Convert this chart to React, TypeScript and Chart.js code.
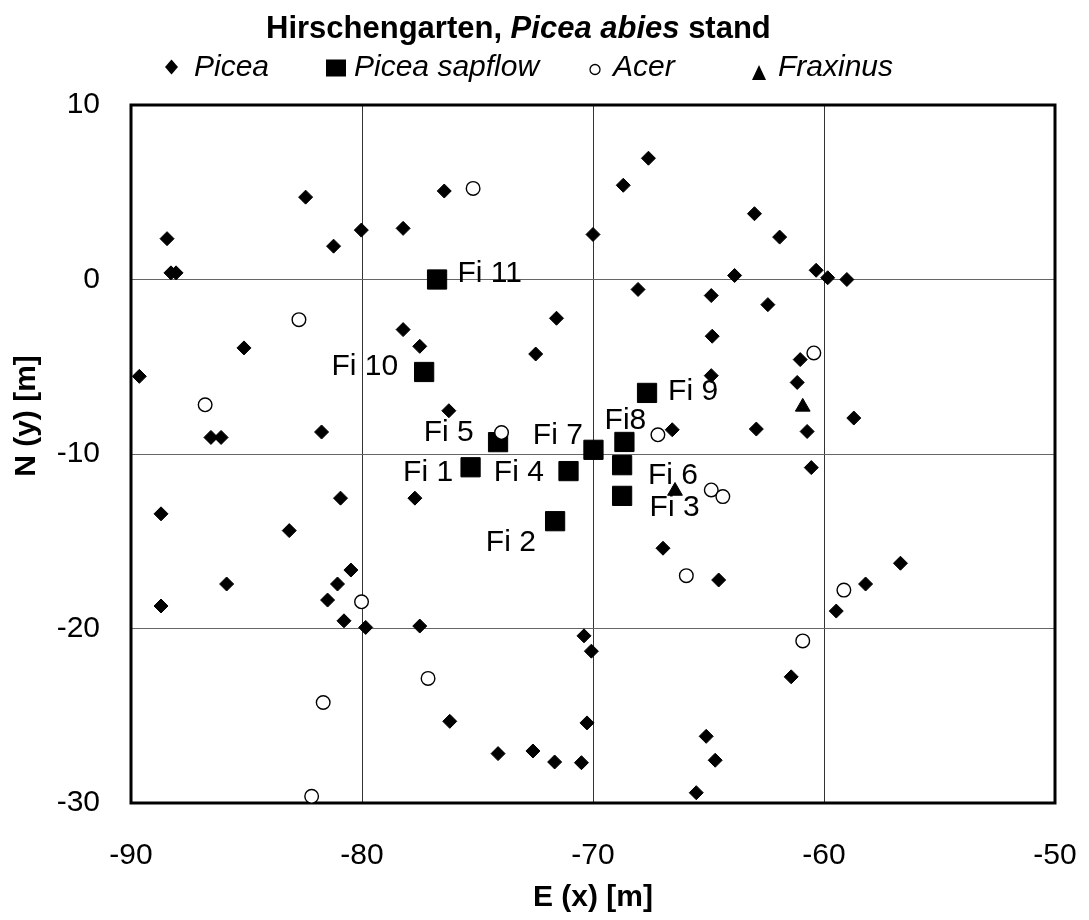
import React, { useEffect, useRef } from 'react';
import { Chart, registerables } from 'chart.js';

Chart.register(...registerables);

const FONT = "'Liberation Sans', Arial, Helvetica, sans-serif";

// Tree positions in the stand: metres east (x) and north (y)
const piceaX = [
  -82.44, -88.44, -88.27, -88.05, -81.23, -80.03, -78.22, -76.44, -85.11, -89.64,
  -86.54, -86.10, -81.75, -78.22, -77.50, -76.24, -71.58, -72.48, -67.60, -68.69,
  -70.00, -68.05, -64.88, -63.87, -64.84, -64.88, -66.57, -77.71, -80.93, -88.70,
  -83.15, -85.86, -80.48, -81.06, -81.49, -88.70, -80.78, -79.84, -77.50, -66.97,
  -64.56, -70.39, -70.07, -76.20, -70.26, -74.11, -72.60, -71.66, -70.50, -65.10,
  -64.71, -65.53, -63.01, -61.92, -60.34, -59.84, -59.01, -62.43, -61.03, -61.16,
  -62.93, -60.73, -58.71, -60.55, -56.69, -58.20, -59.47, -61.42,
];
const piceaY = [
  4.72, 2.34, 0.38, 0.38, 1.91, 2.83, 2.93, 5.07, -3.92, -5.55,
  -9.05, -9.05, -8.74, -2.87, -3.83, -7.52, -2.22, -4.27, 6.95, 5.40,
  2.58, -0.57, -0.92, 0.23, -3.25, -5.51, -8.61, -12.53, -12.53, -13.43,
  -14.39, -17.45, -16.65, -17.45, -18.37, -18.71, -19.56, -19.94, -19.86, -15.40,
  -17.22, -20.42, -21.30, -25.32, -25.41, -27.17, -27.02, -27.65, -27.69, -26.18,
  -27.55, -29.41, 3.77, 2.43, 0.53, 0.10, 0.0, -1.44, -4.59, -5.90,
  -8.57, -8.71, -7.94, -10.78, -16.26, -17.45, -19.00, -22.77,
];

const sapflowLabels = ['Fi 1', 'Fi 2', 'Fi 3', 'Fi 4', 'Fi 5', 'Fi 6', 'Fi 7', 'Fi8', 'Fi 9', 'Fi 10', 'Fi 11'];
const sapflowX = [-75.30, -71.64, -68.74, -71.06, -74.11, -68.74, -69.98, -68.64, -67.66, -77.31, -76.75];
const sapflowY = [-10.76, -13.85, -12.40, -10.98, -9.32, -10.64, -9.76, -9.31, -6.50, -5.30, 0.0];

const acerX = [
  -75.19, -82.73, -86.79, -73.96, -67.19, -64.88, -64.38, -65.96, -77.14, -80.02,
  -81.68, -82.18, -60.44, -59.14, -60.92,
];
const acerY = [
  5.22, -2.30, -7.18, -8.77, -8.90, -12.06, -12.44, -16.97, -22.86, -18.47,
  -24.24, -29.62, -4.21, -17.80, -20.71,
];

const fraxinusX = [-66.45, -60.92];
const fraxinusY = [-12.12, -7.30];

const xTickValues = [-90, -80, -70, -60, -50];
const yTickValues = [-30, -20, -10, 0, 10];

const seriesNames = ['Picea', 'Picea sapflow', 'Acer', 'Fraxinus'];
const titleParts = [
  { text: 'Hirschengarten, ', italic: false },
  { text: 'Picea abies', italic: true },
  { text: ' stand', italic: false },
];
const xAxisTitle = 'E (x) [m]';
const yAxisTitle = 'N (y) [m]';

const toPoints = (xs: number[], ys: number[]) => xs.map((x, i) => ({ x, y: ys[i] }));

// Where each sapflow tag sits relative to its marker (pixels)
const tagPlacement: Record<string, { dx: number; dy: number; align: CanvasTextAlign }> = {
  'Fi 1': { dx: -17.5, dy: 5, align: 'right' },
  'Fi 2': { dx: -19.3, dy: 21.2, align: 'right' },
  'Fi 3': { dx: 27.5, dy: 12, align: 'left' },
  'Fi 4': { dx: -24.7, dy: 1.7, align: 'right' },
  'Fi 5': { dx: -24.3, dy: -9.8, align: 'right' },
  'Fi 6': { dx: 25.8, dy: 10.5, align: 'left' },
  'Fi 7': { dx: -10.6, dy: -14.2, align: 'right' },
  'Fi8': { dx: 1, dy: -21.7, align: 'center' },
  'Fi 9': { dx: 21, dy: -1.6, align: 'left' },
  'Fi 10': { dx: -26, dy: -4.8, align: 'right' },
  'Fi 11': { dx: 20.4, dy: -6, align: 'left' },
};

// Heavy frame around the plotting area, under the markers
const framePlugin = {
  id: 'plotFrame',
  beforeDatasetsDraw(chart: any) {
    const { ctx, chartArea: a } = chart;
    ctx.save();
    ctx.strokeStyle = '#000';
    ctx.lineWidth = 3;
    ctx.strokeRect(a.left, a.top, a.right - a.left, a.bottom - a.top);
    ctx.restore();
  },
};

// Tags next to the sapflow trees
const tagPlugin = {
  id: 'sapflowTags',
  afterDatasetsDraw(chart: any) {
    const { ctx } = chart;
    const meta = chart.getDatasetMeta(1);
    ctx.save();
    ctx.fillStyle = '#000';
    ctx.font = `30px ${FONT}`;
    ctx.textBaseline = 'middle';
    meta.data.forEach((el: any, i: number) => {
      const label = sapflowLabels[i];
      const p = tagPlacement[label];
      ctx.textAlign = p.align;
      ctx.fillText(label, el.x + p.dx, el.y + p.dy);
    });
    ctx.restore();
  },
};

// Title with italic species name, legend row and the rotated y title
const headerPlugin = {
  id: 'header',
  afterDraw(chart: any) {
    const { ctx, chartArea: a } = chart;
    ctx.save();
    ctx.fillStyle = '#000';

    // title
    ctx.textBaseline = 'alphabetic';
    ctx.textAlign = 'left';
    let tx = 266;
    titleParts.forEach((part) => {
      ctx.font = `${part.italic ? 'italic ' : ''}bold 31px ${FONT}`;
      ctx.fillText(part.text, tx, 38);
      tx += ctx.measureText(part.text).width;
    });

    // legend
    const legendSlots = [
      { gx: 171.5, gy: 67, tx: 194 },
      { gx: 336, gy: 68, tx: 354 },
      { gx: 595, gy: 69.5, tx: 613 },
      { gx: 759, gy: 73, tx: 778 },
    ];
    ctx.font = `italic 30px ${FONT}`;
    seriesNames.forEach((name, i) => {
      const s = legendSlots[i];
      ctx.fillStyle = '#000';
      ctx.strokeStyle = '#000';
      ctx.beginPath();
      if (i === 0) {
        ctx.moveTo(s.gx, s.gy - 7.5);
        ctx.lineTo(s.gx + 6.5, s.gy);
        ctx.lineTo(s.gx, s.gy + 7.5);
        ctx.lineTo(s.gx - 6.5, s.gy);
        ctx.closePath();
        ctx.fill();
      } else if (i === 1) {
        ctx.rect(s.gx - 10, s.gy - 8.5, 20, 17);
        ctx.fill();
      } else if (i === 2) {
        ctx.arc(s.gx, s.gy, 5, 0, Math.PI * 2);
        ctx.fillStyle = '#fff';
        ctx.fill();
        ctx.lineWidth = 1.3;
        ctx.stroke();
      } else {
        ctx.moveTo(s.gx, s.gy - 8);
        ctx.lineTo(s.gx + 7, s.gy + 7);
        ctx.lineTo(s.gx - 7, s.gy + 7);
        ctx.closePath();
        ctx.fill();
      }
      ctx.fillStyle = '#000';
      ctx.fillText(name, s.tx, 76);
    });

    // y axis title
    ctx.font = `bold 30px ${FONT}`;
    ctx.textAlign = 'center';
    ctx.textBaseline = 'middle';
    ctx.translate(27, (a.top + a.bottom) / 2 - 38);
    ctx.rotate(-Math.PI / 2);
    ctx.fillText(yAxisTitle, 0, 0);
    ctx.restore();
  },
};

export default function App() {
  const ref = useRef<HTMLCanvasElement>(null);

  useEffect(() => {
    const canvas = ref.current;
    if (!canvas) return;
    const chart = new Chart(canvas, {
      type: 'scatter',
      data: {
        datasets: [
          {
            label: seriesNames[0],
            data: toPoints(piceaX, piceaY),
            pointStyle: 'rectRot',
            pointRadius: 7,
            pointHoverRadius: 7,
            pointBackgroundColor: '#000',
            pointBorderColor: '#000',
            pointBorderWidth: 1,
            order: 0,
            clip: false,
          },
          {
            label: seriesNames[1],
            data: toPoints(sapflowX, sapflowY),
            pointStyle: 'rect',
            pointRadius: 13.6,
            pointHoverRadius: 13.6,
            pointBackgroundColor: '#000',
            pointBorderColor: '#000',
            pointBorderWidth: 1,
            order: 3,
            clip: false,
          },
          {
            label: seriesNames[2],
            data: toPoints(acerX, acerY),
            pointStyle: 'circle',
            pointRadius: 6.8,
            pointHoverRadius: 6.8,
            pointBackgroundColor: '#fff',
            pointBorderColor: '#000',
            pointBorderWidth: 1.4,
            order: 1,
            clip: false,
          },
          {
            label: seriesNames[3],
            data: toPoints(fraxinusX, fraxinusY),
            pointStyle: 'triangle',
            pointRadius: 8.5,
            pointHoverRadius: 8.5,
            pointBackgroundColor: '#000',
            pointBorderColor: '#000',
            pointBorderWidth: 1,
            order: 2,
            clip: false,
          },
        ],
      } as any,
      options: {
        responsive: false,
        animation: false,
        events: [],
        layout: { padding: { top: 105, right: 34, bottom: 0, left: 0 } },
        plugins: {
          legend: { display: false },
          title: { display: false },
          tooltip: { enabled: false },
        },
        scales: {
          x: {
            type: 'linear',
            min: -90,
            max: -50,
            afterBuildTicks: (s: any) => {
              s.ticks = xTickValues.map((v) => ({ value: v }));
            },
            afterFit: (s: any) => {
              s.height = 117;
              s.paddingLeft = 0;
              s.paddingRight = 0;
            },
            grid: { color: '#333', lineWidth: 1, drawTicks: false },
            border: { display: false },
            ticks: { color: '#000', font: { family: FONT, size: 30 }, padding: 34.5 },
            title: {
              display: true,
              text: xAxisTitle,
              color: '#000',
              font: { family: FONT, size: 30, weight: 'bold' },
              padding: { top: 0, bottom: 4 },
            },
          },
          y: {
            type: 'linear',
            min: -30,
            max: 10,
            afterBuildTicks: (s: any) => {
              s.ticks = yTickValues.map((v) => ({ value: v }));
            },
            afterFit: (s: any) => {
              s.width = 131;
              s.paddingTop = 0;
              s.paddingBottom = 0;
            },
            grid: { color: '#666', lineWidth: 1, drawTicks: false },
            border: { display: false },
            ticks: { color: '#000', font: { family: FONT, size: 30 }, padding: 31 },
            title: { display: false },
          },
        },
      } as any,
      plugins: [framePlugin, tagPlugin, headerPlugin],
    });
    return () => chart.destroy();
  }, []);

  return (
    <div style={{ position: 'fixed', left: 0, top: 0, width: 1089, height: 920, background: '#fff' }}>
      <canvas ref={ref} width={1089} height={920} style={{ display: 'block', width: 1089, height: 920 }} />
    </div>
  );
}
